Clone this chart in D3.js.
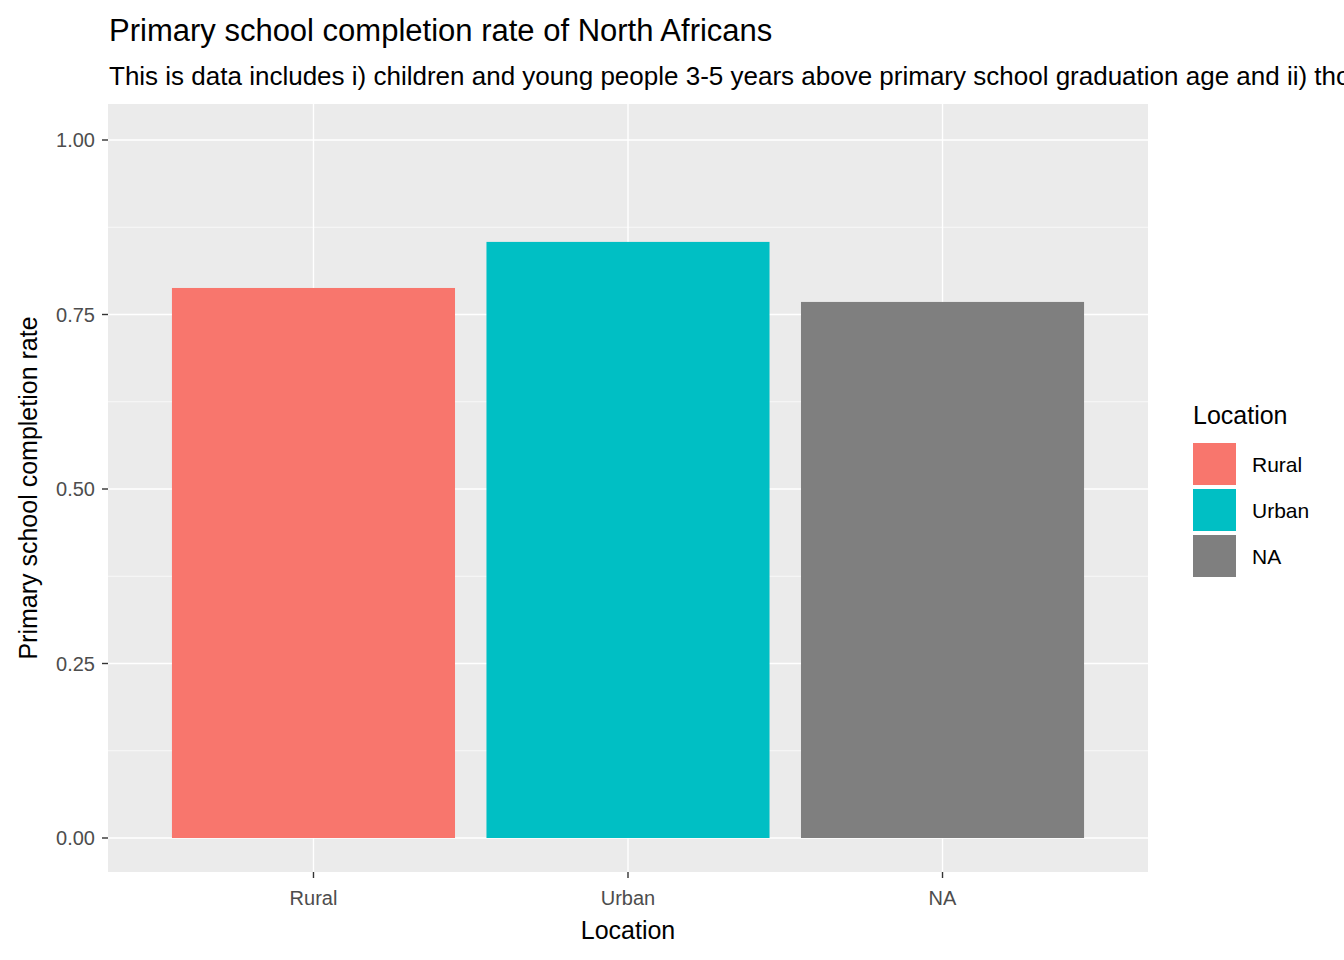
<!DOCTYPE html>
<html><head><meta charset="utf-8">
<script src="https://cdn.jsdelivr.net/npm/d3@7"></script>
<style>body{margin:0;background:#fff;overflow:hidden}text{font-family:Arial,"Liberation Sans",sans-serif}</style>
</head><body><div id="vis"></div>
<script>
var categories = ["Rural", "Urban", "NA"];
var values = [0.788, 0.854, 0.768];
var colorsList = ["#F8766D", "#00BFC4", "#7F7F7F"];
var yTicks = [0, 0.25, 0.5, 0.75, 1];

var w = 1344, h = 960;
var pLeft = 108, pRight = 1148, pTop = 104, pBottom = 872;

var svg = d3.select("#vis").append("svg").attr("width", w).attr("height", h);

// ggplot: 0.6 units expansion each side, bar width 0.9
var unit = (pRight - pLeft) / 3.2;
var x = d3.scaleBand().domain(categories).range([pLeft + unit * 0.1, pRight - unit * 0.1]).padding(0.1);
var y = d3.scaleLinear().domain([0, 1]).range([838, 140]);

svg.append("rect").attr("x", pLeft).attr("y", pTop).attr("width", pRight - pLeft).attr("height", pBottom - pTop).attr("fill", "#EBEBEB");

[0.125, 0.375, 0.625, 0.875].forEach(function (t) {
  svg.append("line").attr("x1", pLeft).attr("x2", pRight).attr("y1", y(t)).attr("y2", y(t)).attr("stroke", "#fff").attr("stroke-width", 0.7);
});
yTicks.forEach(function (t) {
  svg.append("line").attr("x1", pLeft).attr("x2", pRight).attr("y1", y(t)).attr("y2", y(t)).attr("stroke", "#fff").attr("stroke-width", 1.4);
});
categories.forEach(function (c) {
  var cx = x(c) + x.bandwidth() / 2;
  svg.append("line").attr("x1", cx).attr("x2", cx).attr("y1", pTop).attr("y2", pBottom).attr("stroke", "#fff").attr("stroke-width", 1.4);
});

svg.selectAll(".bar").data(categories).enter().append("rect")
  .attr("x", d => x(d)).attr("width", x.bandwidth())
  .attr("y", (d, i) => y(values[i])).attr("height", (d, i) => y(0) - y(values[i]))
  .attr("fill", (d, i) => colorsList[i]);

yTicks.forEach(function (t) {
  svg.append("line").attr("x1", pLeft - 6).attr("x2", pLeft).attr("y1", y(t)).attr("y2", y(t)).attr("stroke", "#333").attr("stroke-width", 1.4);
  svg.append("text").attr("x", pLeft - 13).attr("y", y(t) + 7).attr("text-anchor", "end").attr("font-size", 20).attr("fill", "#4D4D4D").text(t.toFixed(2));
});
categories.forEach(function (c) {
  var cx = x(c) + x.bandwidth() / 2;
  svg.append("line").attr("x1", cx).attr("x2", cx).attr("y1", pBottom).attr("y2", pBottom + 6).attr("stroke", "#333").attr("stroke-width", 1.4);
  svg.append("text").attr("x", cx).attr("y", pBottom + 33).attr("text-anchor", "middle").attr("font-size", 20).attr("fill", "#4D4D4D").text(c);
});

svg.append("text").attr("x", (pLeft + pRight) / 2).attr("y", 939).attr("text-anchor", "middle").attr("font-size", 25).text("Location");
svg.append("text").attr("transform", "translate(37," + (pTop + pBottom) / 2 + ") rotate(-90)").attr("text-anchor", "middle").attr("font-size", 25).text("Primary school completion rate");

svg.append("text").attr("x", 109).attr("y", 41).attr("font-size", 31).text("Primary school completion rate of North Africans");
svg.append("text").attr("x", 109).attr("y", 85).attr("font-size", 26).text("This is data includes i) children and young people 3-5 years above primary school graduation age and ii) those who completed primary school");

svg.append("text").attr("x", 1193).attr("y", 424).attr("font-size", 25).text("Location");
categories.forEach(function (c, i) {
  var ky = 443 + i * 46;
  svg.append("rect").attr("x", 1193).attr("y", ky).attr("width", 43).attr("height", 42).attr("fill", colorsList[i]);
  svg.append("text").attr("x", 1252).attr("y", ky + 29).attr("font-size", 21).text(c);
});
</script></body></html>
